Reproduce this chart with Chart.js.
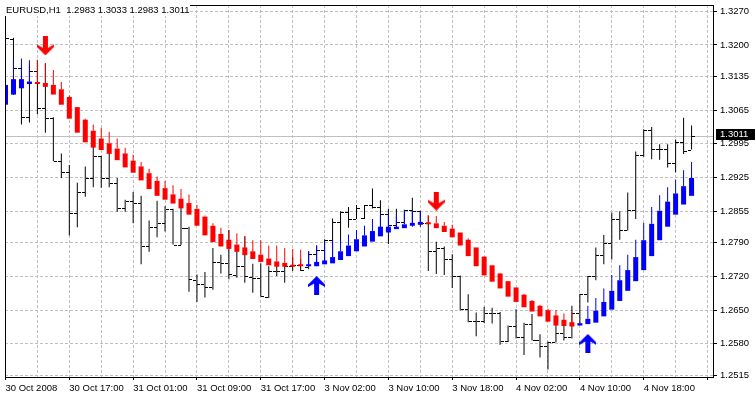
<!DOCTYPE html>
<html>
<head>
<meta charset="utf-8">
<title>EURUSD,H1</title>
<script src="https://cdn.jsdelivr.net/npm/chart.js@4.4.1/dist/chart.umd.min.js"></script>
<style>
  html, body { margin: 0; padding: 0; background: #fff; }
  canvas { display: block; }
</style>
</head>
<body>
<canvas id="chart" width="755" height="395"></canvas>
<script>
// Data
const symbol = "EURUSD,H1";

const xTickLabels = ["30 Oct 2008", "30 Oct 17:00", "31 Oct 01:00", "31 Oct 09:00", "31 Oct 17:00",
    "3 Nov 02:00", "3 Nov 10:00", "3 Nov 18:00", "4 Nov 02:00", "4 Nov 10:00", "4 Nov 18:00"];

const yTickLabels = ["1.3270", "1.3200", "1.3135", "1.3065", "1.2995", "1.2925",
    "1.2855", "1.2790", "1.2720", "1.2650", "1.2580", "1.2515"];

const opens = [1.3121,1.3213,1.3153,1.3050,1.3146,1.3069,1.3049,1.2960,1.2936,1.2851,
    1.2894,1.2924,1.2969,1.2924,1.2914,1.2862,1.2876,1.2872,1.2784,1.2823,
    1.2831,1.2859,1.2786,1.2821,1.2712,1.2704,1.2697,1.2749,1.2747,1.2722,
    1.2741,1.2719,1.2717,1.2678,1.2731,1.2731,1.2741,1.2743,1.2739,1.2766,
    1.2774,1.2795,1.2833,1.2854,1.2840,1.2842,1.2868,1.2864,1.2850,1.2827,
    1.2833,1.2857,1.2855,1.2830,1.2772,1.2778,1.2756,1.2721,1.2652,1.2628,
    1.2627,1.2643,1.2645,1.2586,1.2618,1.2594,1.2622,1.2589,1.2575,1.2584,
    1.2602,1.2594,1.2643,1.2684,1.2721,1.2765,1.2789,1.2838,1.2816,1.2857,
    1.2971,1.3024,1.2985,1.2985,1.2955,1.2999,1.2983];

const highs = [1.3235,1.3215,1.3156,1.3158,1.3168,1.3162,1.3050,1.2975,1.2951,1.2914,
    1.2948,1.2991,1.2970,1.2981,1.2924,1.2879,1.2895,1.2887,1.2836,1.2877,
    1.2866,1.2860,1.2881,1.2823,1.2724,1.2729,1.2779,1.2765,1.2816,1.2775,
    1.2803,1.2746,1.2747,1.2741,1.2745,1.2747,1.2760,1.2756,1.2772,1.2784,
    1.2797,1.2840,1.2855,1.2864,1.2868,1.2868,1.2902,1.2878,1.2860,1.2860,
    1.2858,1.2883,1.2856,1.2846,1.2792,1.2782,1.2766,1.2722,1.2683,1.2645,
    1.2657,1.2655,1.2646,1.2618,1.2652,1.2624,1.2642,1.2600,1.2585,1.2639,
    1.2630,1.2659,1.2684,1.2721,1.2780,1.2806,1.2852,1.2855,1.2894,1.2979,
    1.3025,1.3030,1.2994,1.2994,1.3004,1.3049,1.3033];

const lows = [1.3080,1.3096,1.3035,1.3039,1.3056,1.3018,1.2959,1.2924,1.2805,1.2822,
    1.2885,1.2905,1.2904,1.2905,1.2854,1.2854,1.2830,1.2745,1.2771,1.2801,
    1.2813,1.2786,1.2785,1.2688,1.2667,1.2676,1.2692,1.2726,1.2714,1.2717,
    1.2707,1.2686,1.2678,1.2675,1.2721,1.2707,1.2731,1.2731,1.2735,1.2747,
    1.2751,1.2760,1.2792,1.2821,1.2839,1.2839,1.2861,1.2821,1.2787,1.2823,
    1.2829,1.2823,1.2823,1.2731,1.2725,1.2723,1.2696,1.2649,1.2625,1.2596,
    1.2623,1.2622,1.2578,1.2584,1.2591,1.2557,1.2587,1.2552,1.2527,1.2583,
    1.2587,1.2591,1.2622,1.2666,1.2712,1.2745,1.2755,1.2796,1.2815,1.2839,
    1.2968,1.2963,1.2962,1.2946,1.2936,1.2974,1.2983];

const closes = [1.3214,1.3153,1.3050,1.3146,1.3069,1.3049,1.2960,1.2936,1.2851,1.2894,
    1.2924,1.2969,1.2924,1.2914,1.2862,1.2876,1.2872,1.2784,1.2823,1.2831,
    1.2859,1.2786,1.2821,1.2714,1.2704,1.2697,1.2749,1.2748,1.2724,1.2741,
    1.2720,1.2717,1.2680,1.2731,1.2731,1.2741,1.2743,1.2733,1.2766,1.2774,
    1.2796,1.2833,1.2854,1.2840,1.2862,1.2867,1.2864,1.2850,1.2827,1.2833,
    1.2858,1.2855,1.2830,1.2772,1.2778,1.2756,1.2721,1.2652,1.2628,1.2627,
    1.2643,1.2645,1.2586,1.2618,1.2594,1.2622,1.2589,1.2575,1.2584,1.2602,
    1.2594,1.2643,1.2684,1.2721,1.2765,1.2789,1.2838,1.2816,1.2857,1.2972,
    1.3024,1.2985,1.2985,1.2955,1.2999,1.2981,1.3011];

// smoothed heiken ashi
const haOpen = [1.3076,1.3097,1.3110,1.3119,1.3123,1.3121,1.3117,1.3108,1.3092,1.3071,
    1.3045,1.3022,1.3006,1.2996,1.2985,1.2975,1.2960,1.2948,1.2934,1.2918,
    1.2903,1.2890,1.2881,1.2872,1.2860,1.2844,1.2825,1.2808,1.2796,1.2786,
    1.2780,1.2772,1.2765,1.2757,1.2751,1.2748,1.2743,1.2744,1.2741,1.2741,
    1.2745,1.2747,1.2754,1.2762,1.2772,1.2782,1.2792,1.2803,1.2811,1.2818,
    1.2820,1.2825,1.2827,1.2831,1.2830,1.2825,1.2819,1.2811,1.2796,1.2780,
    1.2761,1.2743,1.2726,1.2710,1.2697,1.2682,1.2669,1.2659,1.2650,1.2639,
    1.2630,1.2625,1.2618,1.2621,1.2624,1.2637,1.2651,1.2669,1.2690,1.2710,
    1.2733,1.2762,1.2795,1.2823,1.2848,1.2869,1.2887];

const haClose = [1.3117,1.3129,1.3129,1.3124,1.3119,1.3113,1.3097,1.3076,1.3047,1.3018,
    1.2998,1.2987,1.2982,1.2974,1.2961,1.2946,1.2935,1.2919,1.2901,1.2887,
    1.2879,1.2871,1.2861,1.2848,1.2825,1.2805,1.2791,1.2782,1.2777,1.2771,
    1.2764,1.2756,1.2750,1.2743,1.2740,1.2740,1.2740,1.2741,1.2745,1.2750,
    1.2753,1.2760,1.2772,1.2784,1.2797,1.2805,1.2814,1.2823,1.2823,1.2823,
    1.2828,1.2831,1.2833,1.2828,1.2820,1.2812,1.2801,1.2784,1.2762,1.2741,
    1.2722,1.2709,1.2695,1.2678,1.2667,1.2656,1.2647,1.2637,1.2626,1.2618,
    1.2617,1.2616,1.2623,1.2632,1.2649,1.2667,1.2690,1.2712,1.2733,1.2760,
    1.2795,1.2829,1.2856,1.2875,1.2892,1.2907,1.2924];

const haHigh = [1.3158,1.3171,1.3172,1.3168,1.3169,1.3162,1.3148,1.3123,1.3095,1.3071,
    1.3047,1.3035,1.3028,1.3020,1.3006,1.2987,1.2972,1.2957,1.2943,1.2927,
    1.2918,1.2909,1.2901,1.2890,1.2868,1.2846,1.2830,1.2821,1.2815,1.2809,
    1.2803,1.2795,1.2795,1.2784,1.2784,1.2779,1.2777,1.2775,1.2772,1.2784,
    1.2789,1.2794,1.2796,1.2807,1.2816,1.2825,1.2839,1.2848,1.2848,1.2847,
    1.2855,1.2855,1.2854,1.2846,1.2845,1.2833,1.2827,1.2811,1.2799,1.2780,
    1.2762,1.2743,1.2727,1.2710,1.2697,1.2684,1.2671,1.2661,1.2653,1.2650,
    1.2643,1.2645,1.2624,1.2659,1.2675,1.2695,1.2723,1.2743,1.2765,1.2796,
    1.2831,1.2864,1.2888,1.2905,1.2921,1.2940,1.2957];

// signal arrows
const sellBars = [5, 54];
const sellPrices = [1.3198, 1.2876];
const buyBars = [39, 73];
const buyPrices = [1.2701, 1.2581];

// Colors
const RED = "#ff0000";
const BLUE = "#0000ff";
const GRID = "#c0c0c0";

const haColor = haOpen.map((o, i) => haClose[i] >= o ? BLUE : RED);

function makeArrow(color, up) {
    const c = document.createElement("canvas");
    c.width = 17;
    c.height = 19;
    const g = c.getContext("2d");
    const pts = [[8.5, 0], [17, 8.5], [17, 11], [11, 7.5], [11, 19], [6, 19], [6, 7.5], [0, 11], [0, 8.5]];
    g.fillStyle = color;
    g.beginPath();
    pts.forEach(([px, py], k) => {
        const yy = up ? py : 19 - py;
        if (k) g.lineTo(px, yy); else g.moveTo(px, yy);
    });
    g.closePath();
    g.fill();
    return c;
}

// open/close ticks, frame, title, last price
const mtPlugin = {
    id: "mt",
    beforeDatasetsDraw(chart) {
        const { ctx, chartArea: a, scales: { x, y } } = chart;
        ctx.save();
        ctx.beginPath();
        ctx.rect(a.left, a.top, a.right - a.left, a.bottom - a.top);
        ctx.clip();

        const yl = Math.round(y.getPixelForValue(closes[closes.length - 1])) + 0.5;
        ctx.strokeStyle = GRID;
        ctx.lineWidth = 1;
        ctx.beginPath();
        ctx.moveTo(a.left, yl);
        ctx.lineTo(a.right, yl);
        ctx.stroke();

        ctx.fillStyle = "#000";
        for (let i = 0; i < opens.length; i++) {
            const px = Math.floor(x.getPixelForValue(i));
            ctx.fillRect(px - 3, Math.round(y.getPixelForValue(opens[i])), 3, 1);
            ctx.fillRect(px + 1, Math.round(y.getPixelForValue(closes[i])), 3, 1);
        }
        ctx.restore();
    },
    afterDraw(chart) {
        const { ctx, chartArea: a, scales: { y } } = chart;
        ctx.save();
        ctx.strokeStyle = "#000";
        ctx.lineWidth = 1;
        ctx.strokeRect(a.left + 0.5, a.top + 0.5, a.right - a.left, a.bottom - a.top);

        const last = opens.length - 1;
        const title = symbol + "  " + [opens[last], highs[last], lows[last], closes[last]]
            .map(v => v.toFixed(4)).join(" ");
        ctx.fillStyle = "#fff";
        ctx.fillRect(4, 2, 186, 14);
        ctx.fillStyle = "#000";
        ctx.font = "9.5px 'Liberation Sans', Arial, sans-serif";
        ctx.textBaseline = "middle";
        ctx.fillText(title, 6, 10);

        const yl = Math.round(y.getPixelForValue(closes[last])) + 0.5;
        ctx.fillStyle = "#000";
        ctx.fillRect(a.right + 3, yl - 7.5, chart.width - a.right - 3, 11);
        ctx.fillStyle = "#fff";
        ctx.fillText(closes[last].toFixed(4), a.right + 7, yl - 2);
        ctx.restore();
    }
};

Chart.defaults.font.family = "'Liberation Sans', Arial, sans-serif";
Chart.defaults.font.size = 9.5;
Chart.defaults.color = "#000";

const ctx = document.getElementById("chart");

new Chart(ctx, {
    type: "bar",
    data: {
        datasets: [
            {
                label: "HA body",
                data: haOpen.map((o, i) => ({ x: i, y: [o, haClose[i]] })),
                backgroundColor: haColor,
                barThickness: 5,
                minBarLength: 2,
                grouped: false,
                inflateAmount: 0,
                order: 1
            },
            {
                label: "HA wick",
                data: haHigh.map((h, i) => ({ x: i, y: [Math.max(haOpen[i], haClose[i]), h] })),
                backgroundColor: haColor,
                barThickness: 1,
                grouped: false,
                inflateAmount: 0,
                order: 2
            },
            {
                label: "EURUSD",
                data: highs.map((h, i) => ({ x: i, y: [lows[i], h] })),
                backgroundColor: "#000",
                barThickness: 1,
                grouped: false,
                inflateAmount: 0,
                order: 3
            },
            {
                type: "scatter",
                label: "sell",
                data: sellBars.map((b, k) => ({ x: b, y: sellPrices[k] })),
                pointStyle: makeArrow(RED, false),
                order: 0
            },
            {
                type: "scatter",
                label: "buy",
                data: buyBars.map((b, k) => ({ x: b, y: buyPrices[k] })),
                pointStyle: makeArrow(BLUE, true),
                order: 0
            }
        ]
    },
    options: {
        responsive: false,
        devicePixelRatio: 1,
        animation: false,
        events: [],
        layout: { padding: { left: 3, top: 1, right: 0, bottom: 0 } },
        plugins: {
            legend: { display: false },
            tooltip: { enabled: false }
        },
        scales: {
            x: {
                type: "linear",
                min: -0.0625,
                max: 88.6875,
                offset: false,
                afterBuildTicks: s => {
                    s.ticks = [];
                    for (let v = 0; v <= 88; v += 4) s.ticks.push({ value: v });
                },
                afterFit: s => {
                    s.height = 18;
                    s.paddingLeft = 0;
                    s.paddingRight = 0;
                },
                ticks: {
                    autoSkip: false,
                    maxRotation: 0,
                    align: "start",
                    padding: 3,
                    callback: (v, i) => i % 2 === 0 ? (xTickLabels[i / 2] || "") : ""
                },
                grid: {
                    offset: false,
                    color: GRID,
                    tickLength: 3,
                    tickColor: c => c.index % 2 === 0 ? "#000" : "rgba(0,0,0,0)"
                },
                border: { display: false, dash: [3, 2] }
            },
            y: {
                type: "linear",
                position: "right",
                min: 1.25113,
                max: 1.32828,
                afterBuildTicks: s => {
                    s.ticks = yTickLabels.map(t => ({ value: parseFloat(t) }));
                },
                afterFit: s => {
                    s.width = 42;
                    s.paddingTop = 0;
                    s.paddingBottom = 0;
                },
                ticks: {
                    autoSkip: false,
                    padding: 3,
                    callback: (v, i) => yTickLabels[i]
                },
                grid: {
                    color: GRID,
                    tickLength: 4,
                    tickColor: "#000"
                },
                border: { display: false, dash: [3, 2] }
            }
        }
    },
    plugins: [mtPlugin]
});
</script>
</body>
</html>
